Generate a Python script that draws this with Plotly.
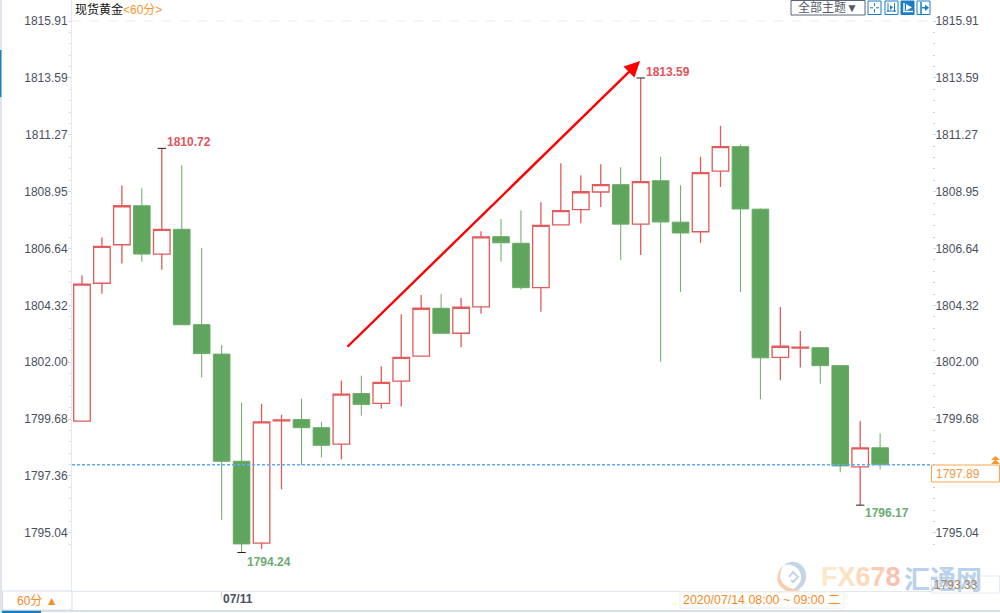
import plotly.graph_objects as go

# --- data ---
open_ = [1799.60,1805.22,1806.79,1808.38,1806.41,1807.42,1803.53,1802.33,1797.96,1794.62,1799.61,
         1799.66,1799.33,1798.66,1800.72,1800.32,1801.23,1802.25,1804.20,1803.18,1804.26,1807.12,
         1806.85,1805.04,1807.60,1808.22,1808.94,1809.24,1807.63,1809.40,1807.71,1807.32,1809.79,
         1810.79,1808.24,1802.20,1802.57,1802.59,1801.86,1797.73,1798.51]
high = [1805.55,1807.09,1809.21,1809.09,1810.72,1810.03,1806.66,1802.70,1800.35,1800.31,1799.86,
        1800.51,1799.57,1801.25,1801.45,1801.84,1803.96,1804.74,1804.78,1804.62,1807.34,1807.84,
        1808.19,1808.52,1810.11,1809.62,1810.07,1809.95,1813.59,1810.38,1809.21,1810.38,1811.64,
        1810.88,1808.27,1804.25,1803.27,1802.62,1801.89,1799.60,1799.10]
low = [1799.60,1804.79,1806.02,1806.10,1805.77,1803.53,1801.38,1795.57,1794.24,1794.38,1796.82,
       1797.81,1798.12,1798.04,1799.82,1800.10,1800.19,1802.25,1803.18,1802.61,1803.98,1806.10,
       1804.96,1804.06,1807.60,1807.67,1808.33,1806.17,1806.37,1802.02,1804.87,1806.86,1809.14,
       1804.87,1800.49,1801.26,1801.78,1801.12,1797.51,1796.17,1797.63]
close = [1805.18,1806.72,1808.38,1806.41,1807.42,1803.53,1802.35,1797.96,1794.59,1799.57,1799.65,
         1799.33,1798.61,1800.70,1800.28,1801.18,1802.20,1804.20,1803.18,1804.24,1807.11,1806.87,
         1805.04,1807.58,1808.18,1808.95,1809.24,1807.63,1809.36,1807.72,1807.27,1809.73,1810.79,
         1808.25,1802.18,1802.65,1802.61,1801.86,1797.77,1798.51,1797.82]
index = list(range(len(open_)))

y_ticks = [1815.91,1813.59,1811.27,1808.95,1806.64,1804.32,1802.00,1799.68,1797.36,1795.04]
y_tick_text = ["1815.91","1813.59","1811.27","1808.95","1806.64","1804.32","1802.00","1799.68","1797.36","1795.04"]
right_hidden = "1797.36"   # covered by the current-price box in the reference
extreme_idx = [4, 8, 28, 39]
extreme_val = [1810.72, 1794.24, 1813.59, 1796.17]
extreme_txt = ["1810.72", "1794.24", "1813.59", "1796.17"]
extreme_col = ["#e2545a", "#6cab72", "#e2545a", "#6cab72"]
extreme_shift = [(4, 6), (4, -9), (4, 6), (4, -8)]
price_line = 1797.82
price_text = "1797.89"
bottom_text = "1793.33"
date_text = "2020/07/14 08:00 ~ 09:00 二"
x_tick_idx = 7
x_tick_text = "07/11"
arrow_from = (13.23, 1802.57)
arrow_to = (27.97, 1814.28)

W, H = 1000, 613
L, R, T, B = 72, 932, 0, 591
def px(x): return (x - L) / (R - L)
def py(y): return (B - y) / (B - T)

step = (y_ticks[0] - y_ticks[-1]) / (len(y_ticks) - 1)
minor_vals = [y_ticks[0] - k * step / 5 for k in range(0, 47) if k % 5]

UP = "#e25a5a"; DOWN = "#68aa65"; ORANGE = "#f5962f"; BLUE = "#1a7dc4"
FONT = "Liberation Sans, Arial, Noto Sans CJK SC"

fig = go.Figure()
fig.add_trace(go.Candlestick(
    x=index, open=open_, high=high, low=low, close=close,
    increasing=dict(line=dict(color=UP, width=1.3), fillcolor="#ffffff"),
    decreasing=dict(line=dict(color=DOWN, width=1), fillcolor="#5fa55d"),
    whiskerwidth=0, showlegend=False, hoverinfo="skip"))
fig.add_trace(go.Scatter(
    x=extreme_idx, y=extreme_val, mode="markers",
    marker=dict(symbol="line-ew", size=6, line=dict(color="#222222", width=1)),
    showlegend=False, hoverinfo="skip"))
fig.add_trace(go.Scatter(x=[index[0]], y=[y_ticks[0]], yaxis="y2", mode="markers",
                         marker=dict(opacity=0), showlegend=False, hoverinfo="skip"))

shapes, ann = [], []
def rect(x0, y0, x1, y1, line="rgba(0,0,0,0)", fill=None, w=1, layer="above"):
    shapes.append(dict(type="rect", xref="paper", yref="paper", x0=px(x0), x1=px(x1), y0=py(y0), y1=py(y1),
                       line=dict(color=line, width=w), fillcolor=fill, layer=layer))
def seg(x0, y0, x1, y1, color, w=1, dash=None):
    shapes.append(dict(type="line", xref="paper", yref="paper", x0=px(x0), x1=px(x1), y0=py(y0), y1=py(y1),
                       line=dict(color=color, width=w, dash=dash)))
def path(points, fill=None, line="rgba(0,0,0,0)", w=1, closed=True):
    d = "M" + " L".join(f"{px(a):.5f},{py(b):.5f}" for a, b in points) + (" Z" if closed else "")
    shapes.append(dict(type="path", xref="paper", yref="paper", path=d, fillcolor=fill, line=dict(color=line, width=w)))
def text(x, y, s, size=12, color="#444", anchor="left", bold=False, family=FONT):
    ann.append(dict(xref="paper", yref="paper", x=px(x), y=py(y), text=f"<b>{s}</b>" if bold else s, showarrow=False,
                    xanchor=anchor, yanchor="middle", font=dict(size=size, color=color, family=family), borderpad=0))

# page frame
rect(0, 0, 2, 613, fill="#e2e4ec")
rect(0, 50, 1.4, 97, fill=BLUE)
seg(2, 611, 1000, 611, "#ccd5de", 1.5)
rect(2, 610.5, 41, 613, fill=BLUE)
rect(2.5, 591, 72, 610, line="#d8dfe7")
text(16, 601, "60分 ▲", 12, "#f58a1f", bold=False)
seg(72, 21, 932, 21, "#e8eaee", 1, "dash")

# current price
shapes.append(dict(type="line", xref="paper", yref="y", x0=0, x1=1, y0=price_line, y1=price_line,
                   line=dict(color="#62abf3", width=1.6, dash="3px,2px")))
rect(931.5, 465, 999.5, 482, line="#f5a650", fill="#ffffff")
text(935, 473.5, price_text, 12, "#f0983c")
path([(991, 460), (995.5, 456), (1000, 460)], fill=ORANGE)
path([(991, 464), (995.5, 459.5), (1000, 464)], fill=ORANGE)

# bottom boxes
rect(931.5, 576, 999.5, 593, line="#e6ebf0")
rect(680, 592, 844, 608, line="#edf0f4", fill="#ffffff")
text(682, 600, date_text, 12.4, "#f58a1f")

# toolbar
rect(791, 0.5, 865, 15, line="#5a6478", fill="#ffffff")
text(797, 8, "全部主题▼", 12, "#555a66")
for i, x in enumerate([868, 885, 901, 917]):
    rect(x, 1, x + 13, 14.5, line=BLUE, fill=BLUE if i == 2 else "#ffffff")
seg(874.5, 3, 874.5, 6, BLUE); seg(874.5, 9, 874.5, 12.5, BLUE); seg(870, 7.8, 873, 7.8, BLUE); seg(876, 7.8, 879, 7.8, BLUE)
seg(888, 3, 888, 12, BLUE); seg(894.5, 3, 894.5, 12, BLUE); seg(887, 11, 896, 11, BLUE)
path([(890, 5), (893, 7.5), (890, 10)], fill=BLUE)
seg(904, 3, 904, 12, "#ffffff", 1.5); seg(903, 11.5, 913, 11.5, "#ffffff", 1.5)
path([(906, 4), (912, 7.5), (906, 10.5)], fill="#ffffff")
seg(921, 2, 921, 14, BLUE, 1.5)
seg(922, 7.8, 925, 7.8, BLUE, 1.5)
path([(925, 4.5), (929, 7.8), (925, 11)], fill=BLUE)

# watermark logo
def curve(d, fill=None, line="rgba(0,0,0,0)", w=1):
    shapes.append(dict(type="path", xref="paper", yref="paper", path=d, fillcolor=fill, line=dict(color=line, width=w), layer="below"))
cx, cy = 792, 577
def P(a, b): return f"{px(cx + a):.5f},{py(cy + b):.5f}"
curve(f"M{P(-8,-12)} C{P(2,-20)} {P(15,-12)} {P(14,0)} C{P(14,9)} {P(6,14)} {P(-2,14)} "
      f"C{P(6,10)} {P(10,5)} {P(9,-2)} C{P(7,-11)} {P(-2,-14)} {P(-8,-12)} Z", fill="#c3d3e8")
curve(f"M{P(-8,-12)} C{P(-16,-6)} {P(-17,6)} {P(-10,11)} C{P(-4,16)} {P(4,16)} {P(9,12)} "
      f"C{P(0,13)} {P(-8,10)} {P(-11,3)} C{P(-13,-2)} {P(-11,-8)} {P(-8,-12)} Z", fill="#f8cdae")
curve(f"M{P(-3,0)} L{P(1,-5)} L{P(6,0)} L{P(1,5)} L{P(-1,3)}", line="#c3d3e8", w=2)

wm = "".join(f'<span style="color:{c}">{ch}</span>' for ch, c in
             zip("FX678", ["#fde7c9", "#fde2c2", "#fdd9ba", "#fccdb5", "#fbc1b0"]))
text(820, 577, wm, 27, "#fde0c0", bold=True, family="Liberation Sans Narrow, Liberation Sans")
text(903, 577, "汇通网", 26, "#b9d1ea", bold=True, family="Noto Sans CJK SC")
text(933, 584.5, bottom_text, 12, "#a8855f")

# title
ann.append(dict(xref="paper", yref="paper", x=px(73.5), y=py(9), showarrow=False, xanchor="left", yanchor="middle", borderpad=0,
                text='现货黄金<span style="color:#f5962f">&lt;60分&gt;</span>', font=dict(size=12, color="#111", family=FONT)))

# x tick label
ann.append(dict(x=x_tick_idx, xref="x", y=py(599), yref="paper", text=f"<b>{x_tick_text}</b>", showarrow=False,
                xanchor="left", yanchor="middle", borderpad=0, font=dict(size=12, color="#4a4f60", family=FONT)))

# high / low labels
for i, v, t, c, (dx, dy) in zip(extreme_idx, extreme_val, extreme_txt, extreme_col, extreme_shift):
    ann.append(dict(x=i, y=v, xref="x", yref="y", text=f"<b>{t}</b>", showarrow=False, xanchor="left", yanchor="middle",
                    xshift=dx, yshift=dy, borderpad=0, font=dict(size=12, color=c, family=FONT)))

# arrow
ann.append(dict(x=arrow_to[0], y=arrow_to[1], ax=arrow_from[0], ay=arrow_from[1], xref="x", yref="y", axref="x", ayref="y",
                text="", showarrow=True, arrowhead=2, arrowsize=1.3, arrowwidth=2.4, arrowcolor="#ff0000", standoff=0))

y_range = [1792.67, 1816.77]
tickfont = dict(size=12, color="#4a4f60", family=FONT)
right_vals = [v for v, t in zip(y_ticks, y_tick_text) if t != right_hidden]
right_text = [t for t in y_tick_text if t != right_hidden]
fig.update_layout(
    width=W, height=H, margin=dict(l=L, r=W - R, t=T, b=H - B), paper_bgcolor="#ffffff", plot_bgcolor="#ffffff",
    boxgap=0.17, boxgroupgap=0, showlegend=False, shapes=shapes, annotations=ann,
    xaxis=dict(range=[-0.5, 42.6], rangeslider=dict(visible=False), showgrid=False, zeroline=False,
               showline=True, linecolor="#e0e6ec", tickmode="array", tickvals=[x_tick_idx], ticktext=[""],
               ticks="outside", ticklen=5, tickcolor="#c4ccd6", showticklabels=False),
    yaxis=dict(range=y_range, side="left", showgrid=False, zeroline=False, showline=True, linecolor="#e3ebf2",
               tickmode="array", tickvals=y_ticks, ticktext=y_tick_text, tickfont=tickfont, ticks="outside",
               ticklen=3, tickcolor="#ccd6e0", ticklabelstandoff=-2,
               minor=dict(tickmode="array", tickvals=minor_vals, ticks="outside", ticklen=2, tickcolor="#d5dde6")),
    yaxis2=dict(range=y_range, side="right", overlaying="y", showgrid=False, zeroline=False, showline=False,
                tickmode="array", tickvals=right_vals, ticktext=right_text, tickfont=tickfont, ticks="outside",
                ticklen=3, tickcolor="#ccd6e0", ticklabelstandoff=-3,
                minor=dict(tickmode="array", tickvals=minor_vals, ticks="outside", ticklen=2, tickcolor="#c8ced6")),
)
fig.write_html("out.html", config=dict(displayModeBar=False), post_script="document.body.style.margin='0';document.body.style.overflow='hidden';")
